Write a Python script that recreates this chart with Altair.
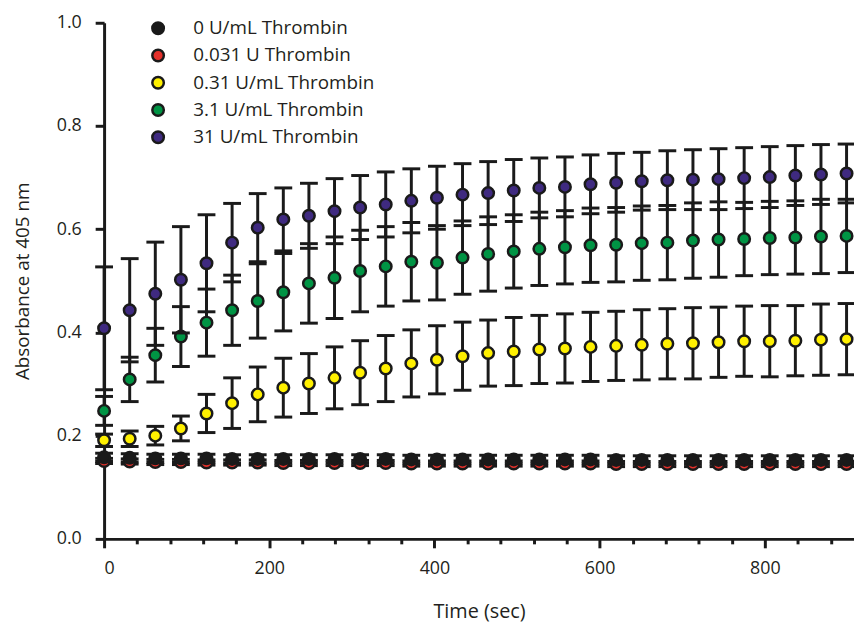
import altair as alt
import pandas as pd

times = [0, 31, 62, 93, 124, 155, 186, 217, 248, 279, 310, 341, 372, 403, 434,
         465, 496, 527, 558, 589, 620, 651, 682, 713, 744, 775, 806, 837, 868, 899]

series_names = ["0 U/mL Thrombin", "0.031 U Thrombin", "0.31 U/mL Thrombin",
                "3.1 U/mL Thrombin", "31 U/mL Thrombin"]
colors = ["#1a1a1a", "#e4312b", "#fff000", "#009444", "#3f2a80"]

mean_0 = [0.158, 0.157, 0.156, 0.156, 0.156, 0.155, 0.155, 0.155, 0.155, 0.155,
          0.155, 0.155, 0.154, 0.154, 0.154, 0.154, 0.154, 0.154, 0.154, 0.154,
          0.153, 0.153, 0.153, 0.153, 0.153, 0.153, 0.153, 0.153, 0.153, 0.153]
sd_0 = [0.008, 0.008, 0.008, 0.008, 0.008, 0.008, 0.008, 0.008, 0.008, 0.008,
        0.008, 0.008, 0.008, 0.008, 0.008, 0.008, 0.008, 0.008, 0.008, 0.008,
        0.008, 0.008, 0.008, 0.008, 0.008, 0.008, 0.008, 0.008, 0.008, 0.008]

mean_0031 = [0.151, 0.150, 0.149, 0.149, 0.148, 0.148, 0.148, 0.147, 0.147, 0.147,
             0.147, 0.147, 0.146, 0.146, 0.146, 0.146, 0.146, 0.146, 0.146, 0.146,
             0.145, 0.145, 0.145, 0.145, 0.145, 0.145, 0.145, 0.145, 0.145, 0.145]
sd_0031 = [0.005, 0.005, 0.005, 0.005, 0.005, 0.005, 0.005, 0.005, 0.005, 0.005,
           0.005, 0.005, 0.005, 0.005, 0.005, 0.005, 0.005, 0.005, 0.005, 0.005,
           0.005, 0.005, 0.005, 0.005, 0.005, 0.005, 0.005, 0.005, 0.005, 0.005]

mean_031 = [0.191, 0.194, 0.200, 0.214, 0.243, 0.263, 0.280, 0.293, 0.301, 0.312,
            0.322, 0.330, 0.340, 0.347, 0.354, 0.360, 0.363, 0.367, 0.369, 0.372,
            0.374, 0.376, 0.378, 0.379, 0.381, 0.383, 0.383, 0.384, 0.386, 0.387]
sd_031 = [0.012, 0.015, 0.018, 0.024, 0.037, 0.049, 0.053, 0.057, 0.058, 0.060,
          0.062, 0.064, 0.065, 0.066, 0.066, 0.064, 0.066, 0.066, 0.067, 0.067,
          0.067, 0.068, 0.068, 0.069, 0.068, 0.068, 0.069, 0.068, 0.069, 0.069]

mean_31 = [0.248, 0.309, 0.356, 0.392, 0.419, 0.443, 0.461, 0.478, 0.495, 0.506,
           0.519, 0.528, 0.537, 0.535, 0.545, 0.552, 0.557, 0.562, 0.565, 0.569,
           0.570, 0.573, 0.574, 0.578, 0.580, 0.581, 0.583, 0.584, 0.586, 0.587]
sd_31 = [0.028, 0.043, 0.052, 0.058, 0.065, 0.068, 0.072, 0.075, 0.077, 0.079,
         0.079, 0.077, 0.076, 0.072, 0.071, 0.072, 0.071, 0.071, 0.071, 0.072,
         0.072, 0.072, 0.072, 0.073, 0.073, 0.071, 0.071, 0.071, 0.072, 0.071]

mean_310 = [0.408, 0.443, 0.475, 0.502, 0.534, 0.574, 0.603, 0.619, 0.626, 0.635,
            0.642, 0.648, 0.655, 0.661, 0.667, 0.670, 0.675, 0.680, 0.682, 0.687,
            0.690, 0.693, 0.695, 0.696, 0.697, 0.699, 0.701, 0.704, 0.706, 0.708]
sd_310 = [0.119, 0.100, 0.100, 0.103, 0.094, 0.076, 0.066, 0.061, 0.063, 0.063,
          0.062, 0.063, 0.062, 0.061, 0.060, 0.061, 0.060, 0.058, 0.058, 0.057,
          0.057, 0.056, 0.057, 0.058, 0.059, 0.059, 0.059, 0.058, 0.058, 0.057]

x_tick_values = [0, 40, 80, 120, 160, 200, 240, 280, 320, 360, 400, 440, 480,
                 520, 560, 600, 640, 680, 720, 760, 800, 840, 880]
y_tick_values = [0.0, 0.2, 0.4, 0.6, 0.8, 1.0]

all_means = [mean_0, mean_0031, mean_031, mean_31, mean_310]
all_sds = [sd_0, sd_0031, sd_031, sd_31, sd_310]

rows = []
for name, means, sds in zip(series_names, all_means, all_sds):
    for t, m, s in zip(times, means, sds):
        rows.append({"series": name, "time": t, "mean": m,
                     "lo": round(m - s, 4), "hi": round(m + s, 4)})
df = pd.DataFrame(rows)

FONT = "Open Sans"
INK = "#1a1a1a"
TXT = "#231f20"

x_axis = alt.Axis(
    values=x_tick_values,
    labelExpr="datum.value % 200 === 0 ? datum.label : ''",
    tickSize={"condition": {"test": "datum.value % 200 === 0", "value": 9}, "value": 5},
    tickWidth=3, tickColor=INK, domainWidth=3, domainColor=INK,
    labelFont=FONT, labelFontSize=18, labelColor=TXT, labelPadding=12,
    labelOverlap=False,
    title="Time (sec)", titleFont=FONT, titleFontSize=20, titleFontWeight="normal",
    titleColor=TXT, titlePadding=24, grid=False,
)
y_axis = alt.Axis(
    values=y_tick_values, format=".1f",
    tickSize=9, tickWidth=3, tickColor=INK, domainWidth=3, domainColor=INK,
    labelFont=FONT, labelFontSize=18, labelColor=TXT, labelPadding=14,
    title="Absorbance at 405 nm", titleFont=FONT, titleFontSize=19,
    titleFontWeight="normal", titleColor=TXT, titlePadding=24, grid=False,
)

x_enc = alt.X("time:Q", scale=alt.Scale(domain=[0, 908], nice=False, zero=False), axis=x_axis)


def y_enc(field):
    return alt.Y(f"{field}:Q", scale=alt.Scale(domain=[0, 1.0], nice=False), axis=y_axis)


fill_enc = alt.Fill(
    "series:N",
    scale=alt.Scale(domain=series_names, range=colors),
    legend=alt.Legend(
        orient="none", legendX=45, legendY=-4, title=None,
        symbolType="circle", symbolSize=135, symbolStrokeColor=INK,
        symbolStrokeWidth=2.5, symbolOpacity=1,
        labelFont=FONT, labelFontSize=19, labelColor=TXT, labelLimit=400,
        labelOffset=26, rowPadding=4.5,
    ),
)

base = alt.Chart(df)
draw_order = [series_names[1], series_names[0], series_names[2], series_names[3], series_names[4]]
layers = []
for name in draw_order:
    sub = base.transform_filter(alt.datum.series == name)
    layers.append(sub.mark_rule(color=INK, strokeWidth=3).encode(
        x=x_enc, y=y_enc("lo"), y2="hi:Q"))
    layers.append(sub.mark_tick(color=INK, orient="horizontal", size=18, thickness=3,
                                opacity=1).encode(x=x_enc, y=y_enc("lo")))
    layers.append(sub.mark_tick(color=INK, orient="horizontal", size=18, thickness=3,
                                opacity=1).encode(x=x_enc, y=y_enc("hi")))
    layers.append(sub.mark_circle(size=135, opacity=1, stroke=INK, strokeWidth=2.5).encode(
        x=x_enc, y=y_enc("mean"), fill=fill_enc))

chart = alt.layer(*layers).properties(
    width=757, height=521,
    padding={"left": 97, "top": 12, "right": 0, "bottom": 82},
    autosize=alt.AutoSizeParams(type="none"),
    background="white",
).configure_view(stroke=None)

chart.save("out.html", embed_options={"renderer": "svg", "actions": False})
